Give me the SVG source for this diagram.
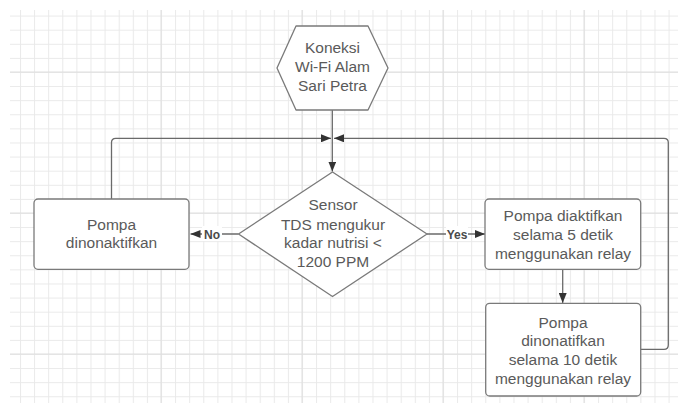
<svg xmlns="http://www.w3.org/2000/svg" width="678" height="403" viewBox="0 0 678 403">
  <defs>
    <pattern id="grid" patternUnits="userSpaceOnUse" x="5.9" y="1.5" width="14.1" height="14.1">
      <path d="M0.5,0 V14.1 M0,0.5 H14.1" fill="none" stroke="#e9e9e9" stroke-width="1"/>
    </pattern>
    <marker id="arr" viewBox="0 0 10 8" refX="10" refY="4" markerWidth="10" markerHeight="8" markerUnits="userSpaceOnUse" orient="auto">
      <path d="M0,0 L10,4 L0,8 Z" fill="#333333"/>
    </marker>
    <style>
      .shape { fill: #ffffff; stroke: #7a7a7a; stroke-width: 1.3; stroke-linejoin: round; }
      .conn { fill: none; stroke: #6a6a6a; stroke-width: 1.3; }
      .txt { font-family: "Liberation Sans", Arial, sans-serif; font-size: 15.5px; fill: #5a5a5a; text-anchor: middle; }
      .lbl { font-family: "Liberation Sans", Arial, sans-serif; font-size: 12px; font-weight: bold; fill: #4a4a4a; text-anchor: middle; }
      .major { stroke: #dedede; stroke-width: 1; fill: none; }
    </style>
  </defs>

  <rect x="0" y="0" width="678" height="403" fill="#ffffff"/>
  <rect x="10" y="10" width="668" height="393" fill="url(#grid)"/>
  <path class="major" d="M161,10 V403 M302,10 V403 M443,10 V403 M584,10 V403 M10,72 H678 M10,213 H678 M10,354 H678"/>

  <g id="connectors">
    <path class="conn" d="M332.3,110 V171.5" marker-end="url(#arr)"/>
    <path class="conn" d="M111.5,199 V142.5 Q111.5,138.3 115.7,138.3 H331" marker-end="url(#arr)"/>
    <path class="conn" d="M640.7,349.3 H664 Q668.3,349.3 668.3,345 V142.5 Q668.3,138.3 664,138.3 H334" marker-end="url(#arr)"/>
    <path class="conn" d="M238.5,234 H190.5" marker-end="url(#arr)"/>
    <path class="conn" d="M427,234 H485" marker-end="url(#arr)"/>
    <path class="conn" d="M562.7,269.3 V303" marker-end="url(#arr)"/>
    <rect x="202" y="226" width="20" height="15" fill="#ffffff"/>
    <text class="lbl" x="212" y="238.5">No</text>
    <rect x="446" y="226" width="22" height="15" fill="#ffffff"/>
    <text class="lbl" x="457" y="238.5">Yes</text>
  </g>

  <g id="start">
    <polygon class="shape" points="277,68 296,26 368,26 388,68 368,110 296,110"/>
    <text class="txt" x="332.5" y="53">Koneksi</text>
    <text class="txt" x="332.5" y="72">Wi-Fi Alam</text>
    <text class="txt" x="332.5" y="91">Sari Petra</text>
  </g>

  <g id="decision">
    <polygon class="shape" points="332.5,172 427,234 332.5,296.5 238.5,234"/>
    <text class="txt" x="333" y="210">Sensor</text>
    <text class="txt" x="333" y="229.5">TDS mengukur</text>
    <text class="txt" x="333" y="248">kadar nutrisi &lt;</text>
    <text class="txt" x="333" y="267">1200 PPM</text>
  </g>

  <g id="pump-off">
    <rect class="shape" x="34" y="199" width="155" height="70.3" rx="4"/>
    <text class="txt" x="111.5" y="229.5">Pompa</text>
    <text class="txt" x="111.5" y="248">dinonaktifkan</text>
  </g>

  <g id="pump-on">
    <rect class="shape" x="485" y="199" width="155.7" height="70.3" rx="4"/>
    <text class="txt" x="563" y="221">Pompa diaktifkan</text>
    <text class="txt" x="563" y="239.7">selama 5 detik</text>
    <text class="txt" x="563" y="258.5">menggunakan relay</text>
  </g>

  <g id="pump-off-10">
    <rect class="shape" x="485.7" y="303.3" width="155" height="92.7" rx="4"/>
    <text class="txt" x="563" y="327.5">Pompa</text>
    <text class="txt" x="563" y="346">dinonatifkan</text>
    <text class="txt" x="563" y="365">selama 10 detik</text>
    <text class="txt" x="563" y="383.5">menggunakan relay</text>
  </g>
</svg>
